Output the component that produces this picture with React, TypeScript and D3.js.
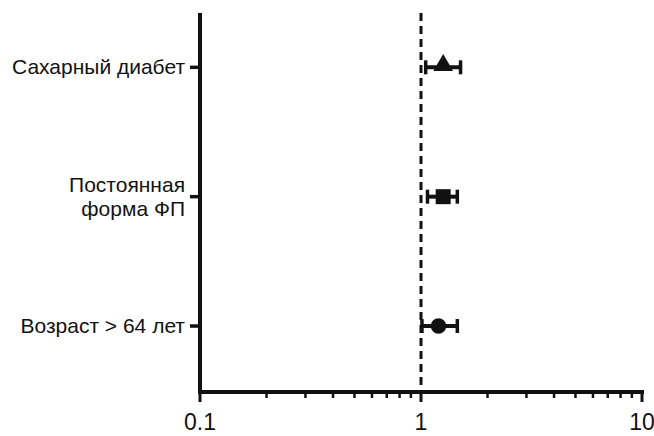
import React, { useEffect, useRef } from 'react';
import * as d3 from 'd3';

// forest plot data
const categories = [['Возраст > 64 лет'], ['Постоянная', 'форма ФП'], ['Сахарный диабет']];
const estimates = [1.2, 1.26, 1.26];
const lower = [1.01, 1.07, 1.05];
const upper = [1.46, 1.46, 1.51];
const markers = ['circle', 'square', 'triangle'];
const xTickLabels = ['0.1', '1', '10'];

export default function App() {
  const ref = useRef<SVGSVGElement>(null);

  useEffect(() => {
    const width = 654;
    const height = 436;
    const svg = d3.select(ref.current);
    svg.selectAll('*').remove();
    svg.attr('width', width).attr('height', height);

    const font = '"Liberation Sans", Arial, sans-serif';
    const x = d3.scaleLog().domain([0.1, 10]).range([200, 642]);
    const y = d3.scaleLinear().domain([-0.51, 2.42]).range([392, 13]);

    const g = svg.append('g');

    // reference line at 1
    g.append('line')
      .attr('x1', x(1)).attr('x2', x(1))
      .attr('y1', y(2.42)).attr('y2', y(-0.51))
      .attr('stroke', '#111').attr('stroke-width', 3)
      .attr('stroke-dasharray', '8,5');

    // x axis
    const minor: number[] = [];
    for (const d of [0.1, 1]) for (let k = 2; k <= 9; k++) minor.push(d * k);
    g.selectAll('.minor').data(minor).enter().append('line')
      .attr('x1', d => x(d)).attr('x2', d => x(d))
      .attr('y1', 392).attr('y2', 398)
      .attr('stroke', '#111').attr('stroke-width', 2.5);
    g.selectAll('.major').data([0.1, 1, 10]).enter().append('line')
      .attr('x1', d => x(d)).attr('x2', d => x(d))
      .attr('y1', 392).attr('y2', 402)
      .attr('stroke', '#111').attr('stroke-width', 3);
    g.append('line')
      .attr('x1', 198).attr('x2', 644)
      .attr('y1', 392).attr('y2', 392)
      .attr('stroke', '#111').attr('stroke-width', 4);
    g.selectAll('.xlab').data(xTickLabels).enter().append('text')
      .attr('x', d => x(+d)).attr('y', 430)
      .attr('text-anchor', 'middle')
      .attr('font-family', font).attr('font-size', 23).attr('fill', '#111')
      .text(d => d);

    // y axis
    g.append('line')
      .attr('x1', 200).attr('x2', 200)
      .attr('y1', 13).attr('y2', 394)
      .attr('stroke', '#111').attr('stroke-width', 4);
    categories.forEach((lines, i) => {
      g.append('line')
        .attr('x1', 190).attr('x2', 200)
        .attr('y1', y(i)).attr('y2', y(i))
        .attr('stroke', '#111').attr('stroke-width', 3.5);
      const t = g.append('text')
        .attr('text-anchor', 'end')
        .attr('font-family', font).attr('font-size', 21).attr('fill', '#111');
      const lh = 24;
      const y0 = y(i) - (lines.length - 1) * lh / 2 + 7;
      lines.forEach((s, j) => {
        t.append('tspan').attr('x', 185).attr('y', y0 + j * lh).text(s);
      });
    });

    // error bars and markers
    estimates.forEach((est, i) => {
      const cy = y(i);
      g.append('line')
        .attr('x1', x(lower[i])).attr('x2', x(upper[i]))
        .attr('y1', cy).attr('y2', cy)
        .attr('stroke', '#111').attr('stroke-width', 4);
      [lower[i], upper[i]].forEach(v => {
        g.append('line')
          .attr('x1', x(v)).attr('x2', x(v))
          .attr('y1', cy - 7).attr('y2', cy + 7)
          .attr('stroke', '#111').attr('stroke-width', 3.5);
      });
      const m = markers[i];
      const sym = m === 'circle' ? d3.symbolCircle : m === 'square' ? d3.symbolSquare : d3.symbolTriangle;
      const size = m === 'circle' ? 190 : m === 'square' ? 225 : 170;
      g.append('path')
        .attr('d', d3.symbol().type(sym).size(size)())
        .attr('transform', `translate(${x(est)},${cy + (m === 'triangle' ? -2 : 0)})`)
        .attr('fill', '#111');
    });
  }, []);

  return <svg ref={ref} style={{ position: 'absolute', left: 0, top: 0 }}></svg>;
}
